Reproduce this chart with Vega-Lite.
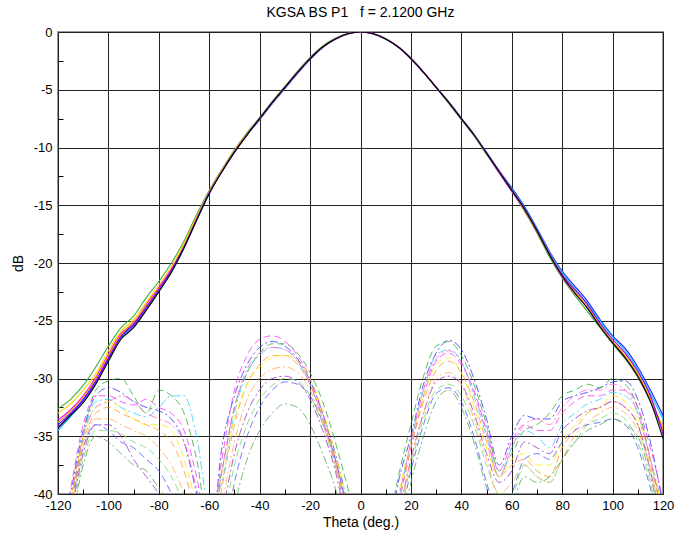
{
"$schema":"https://vega.github.io/schema/vega-lite/v6.json",
"width":605,"height":462,"autosize":"none",
"padding":{"left":58,"top":32,"right":27,"bottom":45},
"title":{"text":"KGSA BS P1\u00a0\u00a0\u00a0f = 2.1200 GHz","fontSize":14,"fontWeight":"normal","font":"Liberation Sans","color":"#000","offset":6},
"config":{"view":{"stroke":"#999","strokeWidth":2},"axis":{"labelFont":"Liberation Sans","titleFont":"Liberation Sans","labelFontSize":13,"titleFontSize":14,"labelColor":"#000","titleColor":"#000","titleFontWeight":"normal"}},
"data":{"values":[
{"t":-120,"c1":-32.6,"c2":-34.0,"c3":-33.6,"c4":-34.5,"c5":-33.0,"c6":-33.8,"c7":-34.2,"c8":-34.3,"x1":-46,"x2":-47,"x3":-45,"x4":-46,"x5":-47,"x6":-46.5,"x7":-48,"x8":-48,"x9":-47,"x10":-49,"x11":-46,"x12":-47},
{"t":-115,"c1":-31.8,"c2":-33.0,"c3":-32.7,"c4":-33.3,"c5":-32.2,"c6":-32.8,"c7":-33.1,"c8":-33.2,"x1":-40,"x2":-41,"x3":-39.5,"x4":-40.5,"x5":-41,"x6":-40.5,"x7":-42,"x8":-42.5,"x9":-41.5,"x10":-43,"x11":-40.5,"x12":-41.5},
{"t":-110,"c1":-30.6,"c2":-31.8,"c3":-31.5,"c4":-32.0,"c5":-31.0,"c6":-31.6,"c7":-31.9,"c8":-32.1,"x1":-34.5,"x2":-35,"x3":-34,"x4":-35,"x5":-35.5,"x6":-35,"x7":-36.5,"x8":-37,"x9":-36,"x10":-37.5,"x11":-35,"x12":-36},
{"t":-105,"c1":-29.0,"c2":-30.2,"c3":-29.9,"c4":-30.4,"c5":-29.6,"c6":-30.0,"c7":-30.3,"c8":-30.5,"x1":-31.5,"x2":-31,"x3":-31.5,"x4":-32,"x5":-33,"x6":-32.5,"x7":-34,"x8":-34.5,"x9":-34,"x10":-35,"x11":-32.5,"x12":-33.5},
{"t":-100,"c1":-27.2,"c2":-28.2,"c3":-27.9,"c4":-28.4,"c5":-27.6,"c6":-28.0,"c7":-28.3,"c8":-28.5,"x1":-30.8,"x2":-30.2,"x3":-31.5,"x4":-31.8,"x5":-32.5,"x6":-32,"x7":-34,"x8":-34.5,"x9":-34.5,"x10":-35.5,"x11":-32,"x12":-33.5},
{"t":-95,"c1":-25.6,"c2":-26.3,"c3":-26.1,"c4":-26.5,"c5":-25.9,"c6":-26.2,"c7":-26.4,"c8":-26.6,"x1":-31.2,"x2":-30,"x3":-32,"x4":-32.5,"x5":-33,"x6":-32.5,"x7":-35,"x8":-34.8,"x9":-35.5,"x10":-36.5,"x11":-31.5,"x12":-34},
{"t":-90,"c1":-24.6,"c2":-25.3,"c3":-25.2,"c4":-25.5,"c5":-24.9,"c6":-25.1,"c7":-25.4,"c8":-25.6,"x1":-32,"x2":-31.5,"x3":-32.3,"x4":-33,"x5":-33.5,"x6":-33.5,"x7":-37,"x8":-35.5,"x9":-36,"x10":-37.5,"x11":-32,"x12":-34.5},
{"t":-85,"c1":-23.0,"c2":-23.8,"c3":-23.6,"c4":-24.0,"c5":-23.4,"c6":-23.7,"c7":-23.9,"c8":-24.1,"x1":-32.5,"x2":-33,"x3":-31.8,"x4":-33.3,"x5":-34,"x6":-34,"x7":-38.5,"x8":-36,"x9":-37,"x10":-38,"x11":-33,"x12":-35},
{"t":-80,"c1":-21.6,"c2":-22.3,"c3":-22.1,"c4":-22.4,"c5":-21.9,"c6":-22.2,"c7":-22.3,"c8":-22.5,"x1":-32.8,"x2":-31,"x3":-32.5,"x4":-32.5,"x5":-34.5,"x6":-34,"x7":-40,"x8":-37,"x9":-38,"x10":-39.5,"x11":-33.5,"x12":-36},
{"t":-75,"c1":-20.0,"c2":-20.7,"c3":-20.5,"c4":-20.8,"c5":-20.3,"c6":-20.6,"c7":-20.6,"c8":-20.8,"x1":-33.5,"x2":-31.5,"x3":-33,"x4":-31.5,"x5":-35.5,"x6":-34.5,"x7":-42,"x8":-38.5,"x9":-40,"x10":-41,"x11":-34,"x12":-37.5},
{"t":-70,"c1":-18.1,"c2":-18.6,"c3":-18.5,"c4":-18.7,"c5":-18.3,"c6":-18.5,"c7":-18.6,"c8":-18.7,"x1":-35.5,"x2":-33,"x3":-34.5,"x4":-31.5,"x5":-38,"x6":-37,"x7":-45,"x8":-41,"x9":-43,"x10":-44,"x11":-35.5,"x12":-40},
{"t":-65,"c1":-15.8,"c2":-16.2,"c3":-16.1,"c4":-16.3,"c5":-16.0,"c6":-16.1,"c7":-16.2,"c8":-16.3,"x1":-40,"x2":-37,"x3":-38.5,"x4":-35,"x5":-42,"x6":-41,"x7":-47,"x8":-45,"x9":-46,"x10":-47,"x11":-39.5,"x12":-44},
{"t":-60,"c1":-13.7,"c2":-13.9,"c3":-13.85,"c4":-14.0,"c5":-13.8,"c6":-13.9,"c7":-13.9,"c8":-14.0,"x1":-45,"x2":-43,"x3":-44,"x4":-41,"x5":-46,"x6":-45,"x7":-48,"x8":-47,"x9":-48,"x10":-49,"x11":-44.5,"x12":-47},
{"t":-55,"c1":-11.9,"c2":-12.1,"c3":-12.05,"c4":-12.1,"c5":-12.0,"c6":-12.0,"c7":-12.1,"c8":-12.1,"x1":-36,"x2":-38,"x3":-37,"x4":-39,"x5":-39.5,"x6":-38.5,"x7":-42,"x8":-43,"x9":-45,"x10":-46,"x11":-38,"x12":-41},
{"t":-50,"c1":-10.2,"c2":-10.4,"c3":-10.35,"c4":-10.4,"c5":-10.3,"c6":-10.3,"c7":-10.4,"c8":-10.4,"x1":-31.5,"x2":-32.5,"x3":-31,"x4":-33,"x5":-34,"x6":-33.5,"x7":-36.5,"x8":-37.5,"x9":-39,"x10":-41,"x11":-32.5,"x12":-35.5},
{"t":-45,"c1":-8.7,"c2":-8.9,"c3":-8.85,"c4":-8.9,"c5":-8.8,"c6":-8.8,"c7":-8.9,"c8":-8.9,"x1":-28.8,"x2":-29.5,"x3":-28,"x4":-29.5,"x5":-30.5,"x6":-30.5,"x7":-33,"x8":-34,"x9":-35,"x10":-37,"x11":-29.2,"x12":-31.8},
{"t":-40,"c1":-7.4,"c2":-7.6,"c3":-7.55,"c4":-7.55,"c5":-7.5,"c6":-7.5,"c7":-7.5,"c8":-7.5,"x1":-27.3,"x2":-27.8,"x3":-26.6,"x4":-28,"x5":-28.8,"x6":-29,"x7":-31,"x8":-31.8,"x9":-32.5,"x10":-34.5,"x11":-27.8,"x12":-30},
{"t":-35,"c1":-6.0,"c2":-6.2,"c3":-6.15,"c4":-6.15,"c5":-6.1,"c6":-6.1,"c7":-6.1,"c8":-6.1,"x1":-26.8,"x2":-27,"x3":-26.3,"x4":-27.3,"x5":-28,"x6":-28.2,"x7":-30,"x8":-30.6,"x9":-31,"x10":-33,"x11":-27.3,"x12":-29.2},
{"t":-30,"c1":-4.7,"c2":-4.9,"c3":-4.85,"c4":-4.85,"c5":-4.8,"c6":-4.8,"c7":-4.8,"c8":-4.8,"x1":-27.2,"x2":-27,"x3":-26.8,"x4":-27.5,"x5":-28,"x6":-28,"x7":-29.8,"x8":-30,"x9":-30.3,"x10":-32.2,"x11":-27.5,"x12":-29},
{"t":-25,"c1":-3.4,"c2":-3.6,"c3":-3.55,"c4":-3.5,"c5":-3.5,"c6":-3.5,"c7":-3.5,"c8":-3.5,"x1":-28.3,"x2":-27.8,"x3":-28,"x4":-28.5,"x5":-28.8,"x6":-28.5,"x7":-30.3,"x8":-30.2,"x9":-30.5,"x10":-32.5,"x11":-28.5,"x12":-29.5},
{"t":-20,"c1":-2.2,"c2":-2.4,"c3":-2.3,"c4":-2.3,"c5":-2.3,"c6":-2.3,"c7":-2.3,"c8":-2.3,"x1":-30.2,"x2":-29.5,"x3":-30,"x4":-30.5,"x5":-30.5,"x6":-30,"x7":-31.8,"x8":-31.5,"x9":-31.5,"x10":-34,"x11":-30.5,"x12":-31},
{"t":-15,"c1":-1.2,"c2":-1.35,"c3":-1.3,"c4":-1.3,"c5":-1.3,"c6":-1.3,"c7":-1.3,"c8":-1.3,"x1":-33,"x2":-32,"x3":-33,"x4":-33.5,"x5":-33.3,"x6":-32.8,"x7":-34.5,"x8":-34,"x9":-33.8,"x10":-36.5,"x11":-33.5,"x12":-33.8},
{"t":-10,"c1":-0.55,"c2":-0.62,"c3":-0.6,"c4":-0.6,"c5":-0.6,"c6":-0.6,"c7":-0.6,"c8":-0.6,"x1":-36.5,"x2":-35.5,"x3":-37,"x4":-37,"x5":-37,"x6":-36.5,"x7":-38,"x8":-37.5,"x9":-37,"x10":-39.5,"x11":-37.5,"x12":-37.5},
{"t":-5,"c1":-0.12,"c2":-0.16,"c3":-0.15,"c4":-0.15,"c5":-0.15,"c6":-0.15,"c7":-0.15,"c8":-0.15,"x1":-41,"x2":-39.5,"x3":-42,"x4":-41.5,"x5":-42,"x6":-41,"x7":-43,"x8":-42,"x9":-41.5,"x10":-44,"x11":-42.5,"x12":-42},
{"t":0,"c1":0,"c2":0,"c3":0,"c4":0,"c5":0,"c6":0,"c7":0,"c8":0,"x1":-46,"x2":-44,"x3":-47,"x4":-46,"x5":-46,"x6":-45,"x7":-47,"x8":-46,"x9":-46,"x10":-48,"x11":-47,"x12":-46},
{"t":5,"c1":-0.15,"c2":-0.14,"c3":-0.15,"c4":-0.16,"c5":-0.15,"c6":-0.15,"c7":-0.15,"c8":-0.15,"x1":-48,"x2":-47,"x3":-49,"x4":-48,"x5":-50,"x6":-49,"x7":-50,"x8":-50,"x9":-51,"x10":-52,"x11":-49,"x12":-50},
{"t":10,"c1":-0.6,"c2":-0.58,"c3":-0.6,"c4":-0.62,"c5":-0.6,"c6":-0.6,"c7":-0.6,"c8":-0.6,"x1":-45,"x2":-44,"x3":-46,"x4":-45,"x5":-46,"x6":-45,"x7":-47,"x8":-47,"x9":-48,"x10":-49,"x11":-45.5,"x12":-47},
{"t":15,"c1":-1.3,"c2":-1.28,"c3":-1.3,"c4":-1.32,"c5":-1.3,"c6":-1.3,"c7":-1.3,"c8":-1.3,"x1":-39,"x2":-38.5,"x3":-41,"x4":-40.5,"x5":-41,"x6":-40,"x7":-42,"x8":-42.5,"x9":-43,"x10":-44,"x11":-40.5,"x12":-42},
{"t":20,"c1":-2.3,"c2":-2.25,"c3":-2.3,"c4":-2.32,"c5":-2.3,"c6":-2.3,"c7":-2.3,"c8":-2.3,"x1":-35,"x2":-34,"x3":-36,"x4":-35.5,"x5":-36,"x6":-35.5,"x7":-37,"x8":-37.5,"x9":-38,"x10":-39,"x11":-35.5,"x12":-37},
{"t":25,"c1":-3.5,"c2":-3.45,"c3":-3.5,"c4":-3.52,"c5":-3.5,"c6":-3.5,"c7":-3.5,"c8":-3.5,"x1":-30.5,"x2":-29.8,"x3":-31.5,"x4":-31,"x5":-32,"x6":-31.5,"x7":-33,"x8":-33.5,"x9":-34,"x10":-35,"x11":-31,"x12":-33},
{"t":30,"c1":-4.8,"c2":-4.75,"c3":-4.8,"c4":-4.82,"c5":-4.8,"c6":-4.8,"c7":-4.8,"c8":-4.8,"x1":-27.8,"x2":-27.2,"x3":-28.5,"x4":-28,"x5":-29.3,"x6":-28.8,"x7":-30.3,"x8":-31,"x9":-31.3,"x10":-32,"x11":-28.3,"x12":-30},
{"t":35,"c1":-6.2,"c2":-6.05,"c3":-6.1,"c4":-6.12,"c5":-6.1,"c6":-6.1,"c7":-6.1,"c8":-6.1,"x1":-26.7,"x2":-26.8,"x3":-27.8,"x4":-27.5,"x5":-28.5,"x6":-28.2,"x7":-29.8,"x8":-30.5,"x9":-30.8,"x10":-31,"x11":-27.6,"x12":-29.5},
{"t":40,"c1":-7.6,"c2":-7.45,"c3":-7.5,"c4":-7.52,"c5":-7.5,"c6":-7.5,"c7":-7.5,"c8":-7.5,"x1":-27.5,"x2":-28,"x3":-28.8,"x4":-28.5,"x5":-29.5,"x6":-29.5,"x7":-30.5,"x8":-31.5,"x9":-32,"x10":-32.5,"x11":-28.6,"x12":-30.5},
{"t":45,"c1":-9.0,"c2":-8.85,"c3":-8.9,"c4":-8.92,"c5":-8.9,"c6":-8.9,"c7":-8.9,"c8":-8.9,"x1":-30,"x2":-30.5,"x3":-31,"x4":-31.5,"x5":-32,"x6":-32.5,"x7":-33,"x8":-34,"x9":-35,"x10":-35.5,"x11":-31.2,"x12":-33.5},
{"t":50,"c1":-10.6,"c2":-10.4,"c3":-10.5,"c4":-10.5,"c5":-10.5,"c6":-10.5,"c7":-10.5,"c8":-10.5,"x1":-33.5,"x2":-34,"x3":-34.5,"x4":-35,"x5":-35.5,"x6":-36,"x7":-36.5,"x8":-37.5,"x9":-39,"x10":-39.5,"x11":-34.8,"x12":-37},
{"t":55,"c1":-12.2,"c2":-12.0,"c3":-12.2,"c4":-12.1,"c5":-12.1,"c6":-12.1,"c7":-12.1,"c8":-12.1,"x1":-37.5,"x2":-38,"x3":-38,"x4":-38.5,"x5":-38.5,"x6":-38.5,"x7":-39,"x8":-40,"x9":-42,"x10":-43,"x11":-38.5,"x12":-40},
{"t":60,"c1":-13.8,"c2":-13.5,"c3":-13.8,"c4":-13.6,"c5":-13.7,"c6":-13.7,"c7":-13.7,"c8":-13.7,"x1":-35,"x2":-36.5,"x3":-35.5,"x4":-36,"x5":-37.5,"x6":-37,"x7":-38,"x8":-40,"x9":-40,"x10":-41,"x11":-36,"x12":-39},
{"t":65,"c1":-15.5,"c2":-15.1,"c3":-15.4,"c4":-15.2,"c5":-15.3,"c6":-15.4,"c7":-15.3,"c8":-15.3,"x1":-33.2,"x2":-34.5,"x3":-34,"x4":-34.5,"x5":-37,"x6":-36.5,"x7":-35.5,"x8":-37.5,"x9":-37,"x10":-38.5,"x11":-34,"x12":-37.5},
{"t":70,"c1":-17.4,"c2":-17.0,"c3":-17.3,"c4":-17.1,"c5":-17.2,"c6":-17.3,"c7":-17.2,"c8":-17.2,"x1":-33.5,"x2":-34,"x3":-34.5,"x4":-35,"x5":-38,"x6":-37.5,"x7":-36,"x8":-38.5,"x9":-36.5,"x10":-39,"x11":-33.5,"x12":-38.5},
{"t":75,"c1":-19.5,"c2":-19.0,"c3":-19.3,"c4":-19.1,"c5":-19.2,"c6":-19.3,"c7":-19.2,"c8":-19.3,"x1":-33.5,"x2":-33,"x3":-34.5,"x4":-36,"x5":-38.5,"x6":-37.5,"x7":-36.5,"x8":-39,"x9":-37,"x10":-38.5,"x11":-34,"x12":-39},
{"t":80,"c1":-21.3,"c2":-20.7,"c3":-21.2,"c4":-20.8,"c5":-21.0,"c6":-21.1,"c7":-21.0,"c8":-21.1,"x1":-32,"x2":-31.5,"x3":-33,"x4":-34,"x5":-36,"x6":-35.5,"x7":-34.5,"x8":-37,"x9":-35.5,"x10":-37,"x11":-32.5,"x12":-37},
{"t":85,"c1":-22.8,"c2":-22.0,"c3":-22.6,"c4":-22.2,"c5":-22.5,"c6":-22.5,"c7":-22.3,"c8":-22.6,"x1":-31.5,"x2":-31,"x3":-32,"x4":-33,"x5":-34.5,"x6":-34,"x7":-33.5,"x8":-35.5,"x9":-34.5,"x10":-35.5,"x11":-31.5,"x12":-35},
{"t":90,"c1":-24.2,"c2":-23.3,"c3":-23.9,"c4":-23.5,"c5":-23.8,"c6":-23.8,"c7":-23.6,"c8":-23.9,"x1":-31.2,"x2":-30.5,"x3":-31.5,"x4":-32.2,"x5":-33,"x6":-33,"x7":-32.8,"x8":-34,"x9":-34,"x10":-34.5,"x11":-31,"x12":-33.8},
{"t":95,"c1":-25.6,"c2":-24.9,"c3":-25.5,"c4":-25.0,"c5":-25.4,"c6":-25.4,"c7":-25.2,"c8":-25.5,"x1":-30.8,"x2":-30.8,"x3":-31.5,"x4":-31.8,"x5":-32.5,"x6":-32.5,"x7":-32.5,"x8":-33.5,"x9":-33.8,"x10":-34,"x11":-31,"x12":-33},
{"t":100,"c1":-27.0,"c2":-26.3,"c3":-26.9,"c4":-26.4,"c5":-26.8,"c6":-26.8,"c7":-26.6,"c8":-26.9,"x1":-30.3,"x2":-30,"x3":-31,"x4":-31.2,"x5":-32,"x6":-31.5,"x7":-32,"x8":-33,"x9":-33.5,"x10":-33.5,"x11":-30.5,"x12":-32.5},
{"t":105,"c1":-28.3,"c2":-27.4,"c3":-28.2,"c4":-27.6,"c5":-28.0,"c6":-28.1,"c7":-27.8,"c8":-28.2,"x1":-30.2,"x2":-30.5,"x3":-31,"x4":-31.5,"x5":-32.5,"x6":-32,"x7":-32.5,"x8":-33.5,"x9":-34,"x10":-34,"x11":-31,"x12":-33},
{"t":110,"c1":-29.9,"c2":-29.0,"c3":-29.8,"c4":-29.2,"c5":-29.6,"c6":-29.7,"c7":-29.4,"c8":-29.8,"x1":-31.8,"x2":-32.5,"x3":-32.5,"x4":-33,"x5":-34,"x6":-33.5,"x7":-34,"x8":-35.5,"x9":-36,"x10":-35,"x11":-33,"x12":-34.5},
{"t":115,"c1":-32.0,"c2":-31.0,"c3":-31.9,"c4":-31.3,"c5":-31.8,"c6":-31.7,"c7":-31.5,"c8":-32.0,"x1":-35.5,"x2":-37,"x3":-36,"x4":-37,"x5":-37.5,"x6":-37,"x7":-38,"x8":-39,"x9":-39.5,"x10":-38.5,"x11":-37,"x12":-38},
{"t":120,"c1":-34.6,"c2":-33.2,"c3":-34.3,"c4":-33.5,"c5":-34.2,"c6":-34.5,"c7":-34.8,"c8":-35.2,"x1":-41,"x2":-42,"x3":-40.5,"x4":-41,"x5":-42,"x6":-41.5,"x7":-43,"x8":-44,"x9":-44,"x10":-43,"x11":-42,"x12":-42.5}
]},
"resolve":{"scale":{"color":"independent","strokeDash":"independent"},"axis":{"x":"independent","y":"independent"}},
"layer":[
{"transform":[{"fold":["x1","x2","x3","x4","x5","x6","x7","x8","x9","x10","x11","x12"],"as":["s","v"]}],
 "mark":{"type":"line","strokeWidth":1,"clip":true,"opacity":0.8,"interpolate":"monotone"},
 "encoding":{
  "x":{"field":"t","type":"quantitative","scale":{"domain":[-120,120],"nice":false,"zero":false},
       "axis":{"values":[-120,-100,-80,-60,-40,-20,0,20,40,60,80,100,120],"grid":true,"gridColor":"#222","gridWidth":1,"gridOpacity":1,"domain":false,"ticks":false,"labelPadding":5,"labelExpr":"'' + datum.value","labelFlush":false,"labelOverlap":false,"title":"Theta (deg.)","titlePadding":3,"orient":"bottom"}},
  "y":{"field":"v","type":"quantitative","scale":{"domain":[-40,0],"nice":false,"zero":false},
       "axis":{"values":[0,-5,-10,-15,-20,-25,-30,-35,-40],"grid":true,"gridColor":"#222","gridWidth":1,"gridOpacity":1,"domain":false,"ticks":false,"labelPadding":6,"labelExpr":"'' + datum.value","labelFlush":false,"labelOverlap":false,"title":"dB","titlePadding":8,"orient":"left"}},
  "color":{"field":"s","type":"nominal","legend":null,"scale":{"domain":["x1","x2","x3","x4","x5","x6","x7","x8","x9","x10","x11","x12"],"range":["#3333ff","#33aa33","#ff33ff","#33ccff","#ff9933","#ffee00","#9933cc","#66dd66","#5555ff","#55aa55","#ff66cc","#ffaa55"]}},
  "strokeDash":{"field":"s","type":"nominal","legend":null,"scale":{"domain":["x1","x2","x3","x4","x5","x6","x7","x8","x9","x10","x11","x12"],"range":[[8,3,2,3],[7,4],[7,4],[8,3,2,3],[7,4],[7,4],[8,3,2,3],[7,4],[7,4],[8,3,2,3],[8,3,2,3],[8,3,2,3]]}}
 }},
{"transform":[{"fold":["c1","c2","c3","c4","c5","c6","c7","c8"],"as":["s","v"]}],
 "mark":{"type":"line","strokeWidth":1.1,"clip":true,"interpolate":"monotone"},
 "encoding":{
  "x":{"field":"t","type":"quantitative","scale":{"domain":[-120,120],"nice":false,"zero":false},
       "axis":{"orient":"bottom","values":[-110,-90,-70,-50,-30,-10,10,30,50,70,90,110],"labels":false,"grid":false,"domain":false,"ticks":true,"tickSize":-5,"tickColor":"#000","title":null}},
  "y":{"field":"v","type":"quantitative","scale":{"domain":[-40,0],"nice":false,"zero":false},
       "axis":{"orient":"left","values":[-2.5,-7.5,-12.5,-17.5,-22.5,-27.5,-32.5,-37.5],"labels":false,"grid":false,"domain":false,"ticks":true,"tickSize":-5,"tickColor":"#000","title":null}},
  "color":{"field":"s","type":"nominal","legend":null,"scale":{"domain":["c1","c2","c3","c4","c5","c6","c7","c8"],"range":["#3cb043","#1f1fff","#ff00ff","#00bfff","#ffd700","#ff8c00","#8b00ff","#000000"]}}
 }}
]
}
